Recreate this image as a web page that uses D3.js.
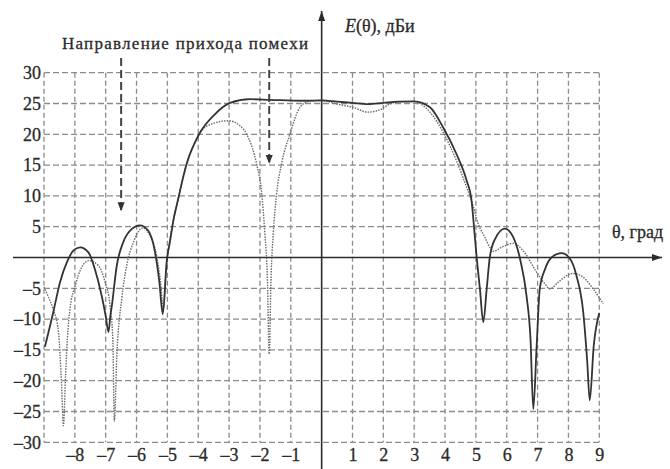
<!DOCTYPE html>
<html>
<head>
<meta charset="utf-8">
<script src="https://cdn.jsdelivr.net/npm/d3@7"></script>
<style>
  body { margin: 0; background: #fff; }
</style>
</head>
<body>
<div id="chart"></div>
<script>
// angle (deg) vs gain (dBi)
const solidCurve = [
  [-8.97, -14.5], [-8.7, -8.9], [-8.48, -4.0], [-8.26, -0.8], [-8.05, 1.1], [-7.83, 1.65],
  [-7.56, 0.84], [-7.35, -1.9], [-7.13, -6.2], [-7.0, -9.5], [-6.91, -12.1], [-6.85, -9.5],
  [-6.8, -7.8], [-6.64, -1.3], [-6.43, 2.5], [-6.16, 4.6], [-5.89, 5.2], [-5.62, 4.35],
  [-5.4, 0.84], [-5.26, -4.0], [-5.15, -9.2], [-5.02, -0.5], [-4.92, 2.5], [-4.8, 6.2],
  [-4.65, 9.5], [-4.5, 12.8], [-4.375, 15.2], [-4.16, 18.1], [-3.94, 20.3], [-3.51, 23.0],
  [-2.97, 25.1], [-2.32, 25.7], [-1.67, 25.6], [-0.6, 25.45], [0, 25.5], [0.5, 25.3],
  [1, 25.1], [1.5, 24.9], [2, 25.1], [2.5, 25.3], [3, 25.35], [3.51, 24.4], [3.94, 21.1],
  [4.37, 16.8], [4.7, 12.5], [4.86, 9.2], [4.94, 4.9], [5.02, 0.3], [5.13, -5.1],
  [5.24, -10.5], [5.35, -5.1], [5.45, 0], [5.62, 3.0], [5.94, 4.7], [6.21, 3.3],
  [6.43, -0.2], [6.64, -6.2], [6.77, -13.2], [6.86, -24.6], [6.97, -14.3], [7.07, -5.1],
  [7.24, -1.9], [7.45, 0], [7.78, 0.7], [8.05, -0.2], [8.26, -2.95], [8.48, -8.9],
  [8.61, -17.0], [8.69, -23.2], [8.82, -14.3], [9.0, -9.0]
];

const dottedCurve = [
  [-9, -4.8], [-8.85, -6.5], [-8.7, -8.4], [-8.53, -12.1], [-8.43, -20.8], [-8.37, -27.3],
  [-8.3, -19], [-8.24, -13], [-8.16, -8.4], [-7.99, -4.6], [-7.78, -1.6], [-7.55, -0.5],
  [-7.24, -1.3], [-7.02, -4.0], [-6.86, -7.8], [-6.77, -13.2], [-6.72, -26.6], [-6.64, -16],
  [-6.48, -6.7], [-6.32, -1.3], [-6.1, 2.5], [-5.8, 4.8], [-5.56, 3.5], [-5.35, 0.3],
  [-5.22, -4.0], [-5.13, -8.4], [-5.05, -2.5], [-4.95, 1.8], [-4.8, 6.2], [-4.65, 9.5],
  [-4.5, 12.8], [-4.375, 15.2], [-4.16, 18.1], [-3.94, 20.3], [-3.6, 21.6], [-3.03, 22.2],
  [-2.65, 21.4], [-2.38, 19.5], [-2.11, 15.2], [-1.94, 10.3], [-1.84, 3.8], [-1.76, -3.2],
  [-1.7, -15.7], [-1.64, -3.2], [-1.57, 3.8], [-1.46, 10.3], [-1.3, 15.2], [-1.03, 20.0],
  [-0.7, 24.4], [-0.38, 25.4], [0, 25.5], [0.5, 24.9], [1, 24.4], [1.5, 23.6], [1.9, 24.0],
  [2.2, 24.9], [2.6, 25.3], [3, 25.3], [3.51, 23.6], [3.94, 20.3], [4.37, 15.7], [4.7, 11.4],
  [4.86, 9.2], [5.08, 5.4], [5.29, 3.3], [5.45, 1.65], [5.56, 1.0], [5.89, 1.8], [6.21, 2.3],
  [6.53, 1.1], [6.97, -2.4], [7.24, -4.3], [7.4, -5.1], [7.67, -4.0], [8.05, -2.7],
  [8.15, -2.6], [8.48, -3.2], [8.8, -5.1], [9.13, -7.5]
];

const xTicks = [-8, -7, -6, -5, -4, -3, -2, -1, 1, 2, 3, 4, 5, 6, 7, 8, 9];
const yTicks = [-30, -25, -20, -15, -10, -5, 5, 10, 15, 20, 25, 30];
const xGrid = d3.range(-9, 10).filter((d) => d !== 0);
const yGrid = yTicks;

// interference directions (angle, dB level of arrow tip)
const interference = [[-6.5, 7.5], [-1.7, 15.2]];

const width = 670;
const height = 469;

const svg = d3.select('#chart')
  .append('svg')
  .attr('width', width)
  .attr('height', height)
  .style('display', 'block');

const xScale = d3.scaleLinear().domain([-9, 9]).range([44, 599.3]);
const yScale = d3.scaleLinear().domain([-30, 30]).range([442.3, 72.7]);

const ink = '#2b2b2b';
const gridColor = '#8c8c8c';
const serif = "'Times New Roman', 'Liberation Serif', serif";

// grid
const grid = svg.append('g');
grid.selectAll('line.h')
  .data(yGrid)
  .join('line')
  .attr('class', 'h')
  .attr('x1', xScale(-9))
  .attr('x2', xScale(9))
  .attr('y1', (d) => yScale(d))
  .attr('y2', (d) => yScale(d))
  .attr('stroke', gridColor)
  .attr('stroke-width', 1.3)
  .attr('stroke-dasharray', '6,3');

grid.selectAll('line.v')
  .data(xGrid)
  .join('line')
  .attr('class', 'v')
  .attr('x1', (d) => xScale(d))
  .attr('x2', (d) => xScale(d))
  .attr('y1', yScale(30))
  .attr('y2', yScale(-30))
  .attr('stroke', gridColor)
  .attr('stroke-width', 1.3)
  .attr('stroke-dasharray', '5,3');

// tick labels through d3 axes
const fmt = (d) => (d < 0 ? '\u2013' + Math.abs(d) : String(d));

const xAxis = svg.append('g')
  .attr('transform', `translate(0, ${yScale(-30)})`)
  .call(d3.axisBottom(xScale).tickValues(xTicks).tickSize(0).tickPadding(6).tickFormat(fmt));

const yAxis = svg.append('g')
  .attr('transform', `translate(${xScale(-9)}, 0)`)
  .call(d3.axisLeft(yScale).tickValues(yTicks).tickSize(0).tickPadding(3).tickFormat(fmt));

[xAxis, yAxis].forEach((g) => {
  g.select('.domain').remove();
  g.attr('font-family', null).attr('font-size', null);
  g.selectAll('text')
    .style('font-family', serif)
    .style('font-size', '18px')
    .attr('fill', ink)
    .attr('stroke', ink)
    .attr('stroke-width', 0.3);
});

// main axes with arrows
const defs = svg.append('defs');
defs.append('marker')
  .attr('id', 'axis-arrow')
  .attr('viewBox', '0 0 10 10')
  .attr('refX', 10)
  .attr('refY', 5)
  .attr('markerWidth', 10)
  .attr('markerHeight', 10)
  .attr('markerUnits', 'userSpaceOnUse')
  .attr('orient', 'auto')
  .append('path')
  .attr('d', 'M0,1.5 L10,5 L0,8.5 Z')
  .attr('fill', ink);

svg.append('line')
  .attr('x1', 13)
  .attr('x2', 662)
  .attr('y1', yScale(0))
  .attr('y2', yScale(0))
  .attr('stroke', ink)
  .attr('stroke-width', 1.6)
  .attr('marker-end', 'url(#axis-arrow)');

svg.append('line')
  .attr('x1', xScale(0))
  .attr('x2', xScale(0))
  .attr('y1', height)
  .attr('y2', 11)
  .attr('stroke', ink)
  .attr('stroke-width', 1.6)
  .attr('marker-end', 'url(#axis-arrow)');

// curves
const line = d3.line()
  .x((d) => xScale(d[0]))
  .y((d) => yScale(d[1]))
  .curve(d3.curveMonotoneX);

svg.append('path')
  .datum(dottedCurve)
  .attr('d', line)
  .attr('fill', 'none')
  .attr('stroke', '#6a6a6a')
  .attr('stroke-width', 1.4)
  .attr('stroke-dasharray', '1.5,1.2');

svg.append('path')
  .datum(solidCurve)
  .attr('d', line)
  .attr('fill', 'none')
  .attr('stroke', '#333')
  .attr('stroke-width', 1.8);

// interference direction arrows
defs.append('marker')
  .attr('id', 'dash-arrow')
  .attr('viewBox', '0 0 10 10')
  .attr('refX', 10)
  .attr('refY', 5)
  .attr('markerWidth', 9)
  .attr('markerHeight', 9)
  .attr('markerUnits', 'userSpaceOnUse')
  .attr('orient', 'auto')
  .append('path')
  .attr('d', 'M0,1 L10,5 L0,9 Z')
  .attr('fill', '#333');

svg.selectAll('line.arrow')
  .data(interference)
  .join('line')
  .attr('class', 'arrow')
  .attr('x1', (d) => xScale(d[0]))
  .attr('x2', (d) => xScale(d[0]))
  .attr('y1', 58)
  .attr('y2', (d) => yScale(d[1]))
  .attr('stroke', '#444')
  .attr('stroke-width', 2)
  .attr('stroke-dasharray', '8,4')
  .attr('marker-end', 'url(#dash-arrow)');

// labels
const labels = svg.append('g')
  .style('font-family', serif)
  .style('font-size', '18px')
  .attr('fill', ink)
  .attr('stroke', ink)
  .attr('stroke-width', 0.3);

labels.append('text')
  .attr('x', 62)
  .attr('y', 49)
  .style('font-size', '17px')
  .attr('textLength', 246)
  .attr('lengthAdjust', 'spacing')
  .text('Направление прихода помехи');

const yLabel = labels.append('text')
  .attr('x', 345)
  .attr('y', 32);
yLabel.append('tspan').attr('font-style', 'italic').text('E');
yLabel.append('tspan').text('(θ), дБи');

labels.append('text')
  .attr('x', 612)
  .attr('y', 238)
  .text('θ, град');
</script>
</body>
</html>
